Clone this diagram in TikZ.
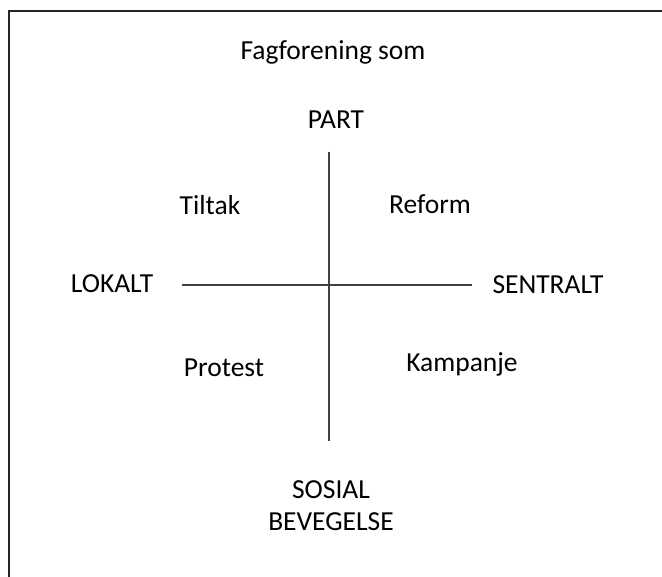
\documentclass[tikz,border=0pt]{standalone}
\usepackage{fontspec}
\setmainfont{Carlito}
\tikzset{
  lbl/.style={font=\fontsize{27.5}{32}\selectfont, inner sep=0pt, anchor=center, align=center},
  axis/.style={draw=black!75, line width=2pt},
  frame/.style={draw=black!85, line width=2pt}
}
\begin{document}
\begin{tikzpicture}[x=1pt,y=-1pt]
\useasboundingbox (0,0) rectangle (662,577);
\fill[white] (0,0) rectangle (662,577);
\draw[frame] (9,580) -- (9,11) -- (665,11);
\node[lbl] (title) at (333,52) {Fagforening som};
\node[lbl] (part) at (336,120) {PART};
\node[lbl] (tiltak) at (210,205) {Tiltak};
\node[lbl] (reform) at (430,204) {Reform};
\node[lbl] (lokalt) at (112,284) {LOKALT};
\node[lbl] (sentralt) at (548,285) {SENTRALT};
\node[lbl] (protest) at (224,368) {Protest};
\node[lbl] (kampanje) at (462,364) {Kampanje};
\node[lbl] (sosial) at (331,506) {SOSIAL\\BEVEGELSE};
\coordinate (vtop) at (329,152);
\coordinate (vbot) at (329,441);
\coordinate (hl) at (182,285);
\coordinate (hr) at (472,285);
\draw[axis] (vtop) -- (vbot);
\draw[axis] (hl) -- (hr);
\end{tikzpicture}
\end{document}
